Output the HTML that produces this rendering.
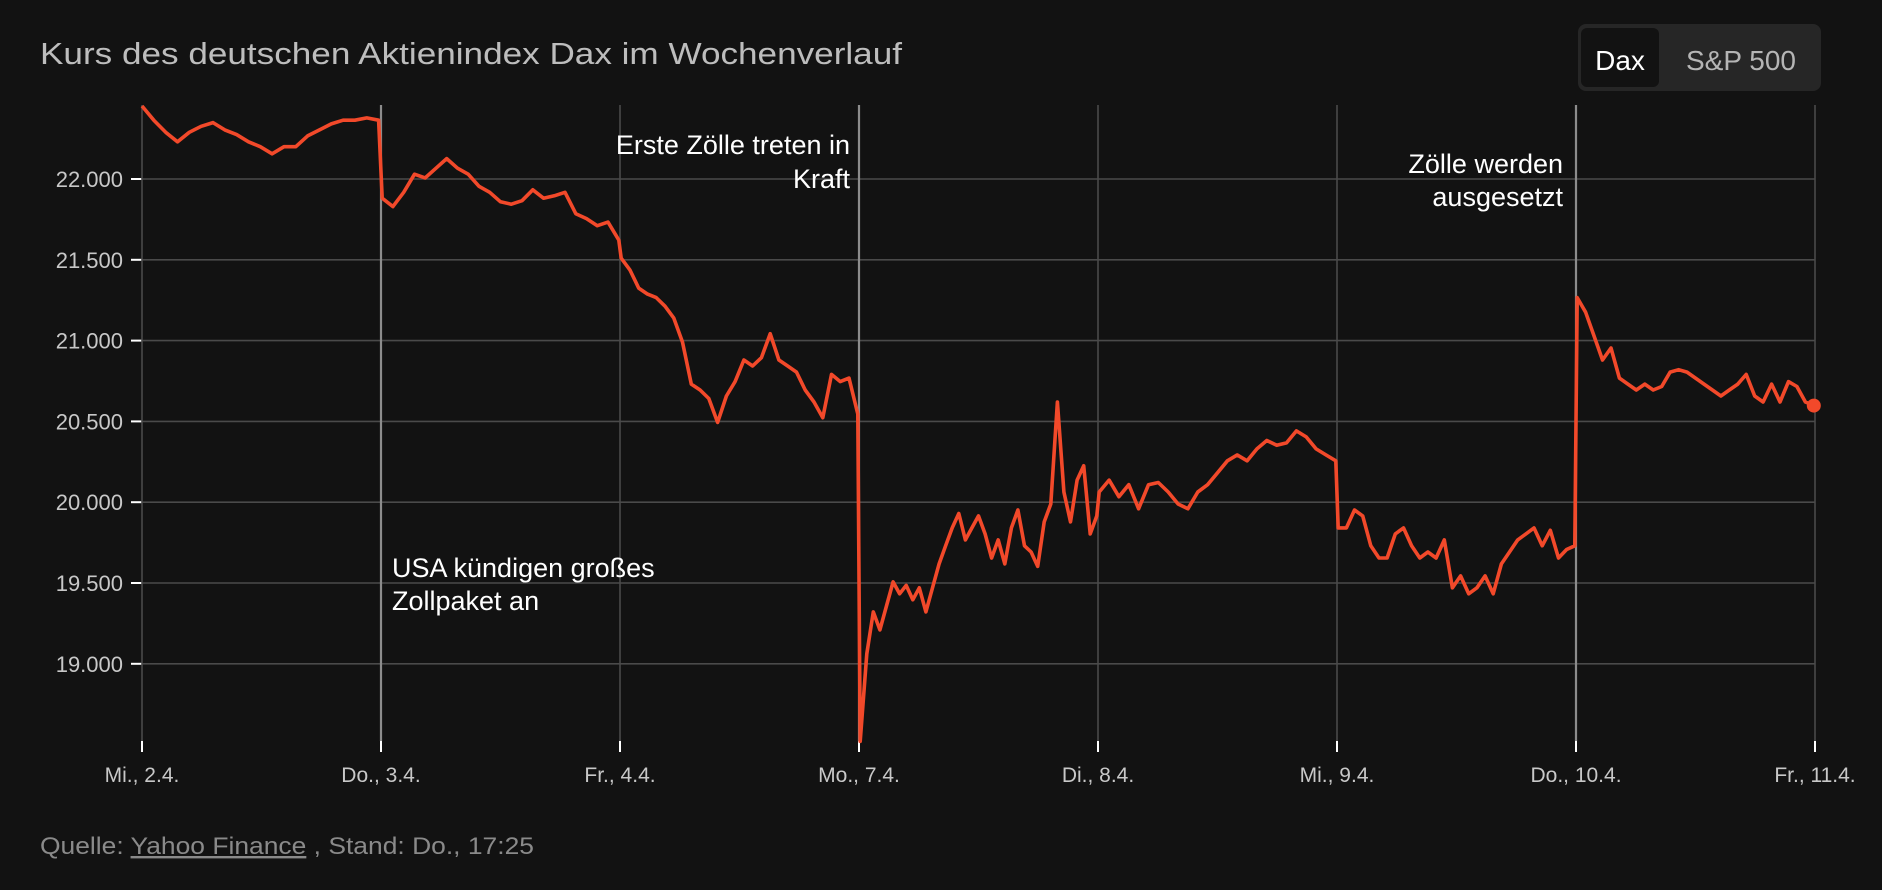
<!DOCTYPE html>
<html><head><meta charset="utf-8">
<style>
html,body{margin:0;padding:0;background:#121212;}
body{width:1882px;height:890px;overflow:hidden;font-family:"Liberation Sans",sans-serif;}
svg{display:block;}
</style></head>
<body>
<svg id="chart" width="1882" height="890" viewBox="0 0 1882 890">
  <rect x="0" y="0" width="1882" height="890" fill="#121212"/>
  <text x="40" y="64" font-size="31" fill="#bdbdbd" textLength="862" lengthAdjust="spacingAndGlyphs">Kurs des deutschen Aktienindex Dax im Wochenverlauf</text>
  <g>
    <rect x="1578" y="24" width="243" height="67" rx="8" fill="#262626"/>
    <rect x="1581" y="28" width="78" height="59" rx="6" fill="#121212"/>
    <text x="1620" y="70" font-size="28" fill="#ffffff" text-anchor="middle">Dax</text>
    <text x="1741" y="70" font-size="28" fill="#b5b5b5" text-anchor="middle">S&amp;P 500</text>
  </g>
  <g id="grid"></g>
  <g id="annotations">
    <text x="850" y="154" font-size="27" fill="#ffffff" text-anchor="end">Erste Zölle treten in</text>
    <text x="850" y="188" font-size="27" fill="#ffffff" text-anchor="end">Kraft</text>
    <text x="1563" y="173" font-size="27" fill="#ffffff" text-anchor="end">Zölle werden</text>
    <text x="1563" y="206" font-size="27" fill="#ffffff" text-anchor="end">ausgesetzt</text>
    <text x="392" y="577" font-size="27" fill="#ffffff">USA kündigen großes</text>
    <text x="392" y="610" font-size="27" fill="#ffffff">Zollpaket an</text>
  </g>
  <g id="series"></g>
  <text x="40" y="854" font-size="24" fill="#8a8a8a" textLength="494" lengthAdjust="spacingAndGlyphs">Quelle: <tspan text-decoration="underline">Yahoo Finance</tspan> , Stand: Do., 17:25</text>
</svg>
<script>
const dayLabels = ["Mi., 2.4.","Do., 3.4.","Fr., 4.4.","Mo., 7.4.","Di., 8.4.","Mi., 9.4.","Do., 10.4.","Fr., 11.4."];
const yTicks = [19000,19500,20000,20500,21000,21500,22000];
const yTickLabels = ["19.000","19.500","20.000","20.500","21.000","21.500","22.000"];
const eventDays = [1,3,6];
const day0 = [22452,22364,22289,22230,22289,22326,22349,22304,22275,22230,22200,22156,22200,22200,22267,22304,22341,22364,22364,22378,22364];
const day1 = [21881,21829,21918,22030,22007,22067,22126,22067,22030,21955,21918,21859,21844,21866,21933,21881,21896,21918,21785,21755,21711,21733,21622];
const day2 = [21510,21436,21325,21288,21266,21213,21139,20991,20731,20694,20642,20494,20657,20746,20880,20843,20894,21043,20880,20843,20805,20694,20620,20523,20791,20746,20768,20546];
const day3 = [18520,19062,19321,19210,19358,19507,19433,19485,19396,19470,19321,19470,19618,19730,19841,19930,19767,19841,19915,19804,19655,19767,19618,19841,19952,19730,19692,19603,19878,19989,20620,20063,19878,20137,20226,19804,19915];
const day4 = [20063,20137,20034,20108,19959,20108,20122,20063,19989,19959,20063,20108,20182,20256,20293,20256,20330,20382,20352,20367,20441,20404,20330,20293,20256];
const day5 = [19841,19841,19952,19915,19730,19655,19655,19804,19841,19730,19655,19692,19655,19767,19470,19544,19433,19470,19544,19433,19618,19692,19767,19804,19841,19730,19826,19655,19707,19730];
const day6 = [21266,21176,21028,20880,20954,20768,20731,20694,20731,20694,20716,20805,20820,20805,20768,20731,20694,20657,20694,20731,20791,20657,20620,20731,20620,20746,20716,20620,20598];
const dayValues = [day0,day1,day2,day3,day4,day5,day6];

const NS="http://www.w3.org/2000/svg";
const X0=142, DAYW=239, YREF=179, YPER500=80.8;
function xScale(t){return X0+t*DAYW;}
function yScale(v){return YREF+(22000-v)/500*YPER500;}
const plotTop=105, plotBottom=741;
function mk(tag,attrs,parent){const e=document.createElementNS(NS,tag);for(const k in attrs)e.setAttribute(k,attrs[k]);parent.appendChild(e);return e;}
const grid=document.getElementById('grid');
yTicks.forEach((v,i)=>{
  const y=yScale(v);
  const g=mk('line',{x1:X0,x2:xScale(dayLabels.length-1),y1:y,y2:y,stroke:'#4a4a4a','stroke-width':1.6},grid);
  
  
  const tk=mk('line',{x1:131,x2:142,y1:y,y2:y,stroke:'#ffffff','stroke-width':2},grid);
  
  
  const t=mk('text',{x:123,y:y+8,'font-size':22,fill:'#c8c8c8','text-anchor':'end'},grid);
  t.textContent=yTickLabels[i];
  
  
});
dayLabels.forEach((lab,i)=>{
  const x=xScale(i);
  const ev=eventDays.includes(i);
  const l=mk('line',{x1:x,x2:x,y1:plotTop,y2:plotBottom,stroke:ev?'#8c8c8c':'#4a4a4a','stroke-width':ev?2.2:1.6},grid);
  
  
  const tk=mk('line',{x1:x,x2:x,y1:741,y2:752,stroke:'#ffffff','stroke-width':2},grid);
  
  
  const t=mk('text',{x:x,y:782,'font-size':21,fill:'#c8c8c8','text-anchor':'middle'},grid);
  t.textContent=lab;
  
  
});
const pts=[];
dayValues.forEach((arr,d)=>{
  const n=arr.length;
  arr.forEach((v,i)=>{
    const t=d+(d===0?0:0.005)+i/(n-1)*0.99;
    pts.push([xScale(t),yScale(v)]);
  });
});
const series=document.getElementById('series');
const path=mk('path',{d:'M'+pts.map(p=>p[0].toFixed(1)+','+p[1].toFixed(1)).join('L'),fill:'none',stroke:'#f2492a','stroke-width':3.6,'stroke-linejoin':'round'},series);


const last=pts[pts.length-1];
const dot=mk('circle',{cx:last[0],cy:last[1],r:7,fill:'#f2492a'},series);


</script>
</body></html>
